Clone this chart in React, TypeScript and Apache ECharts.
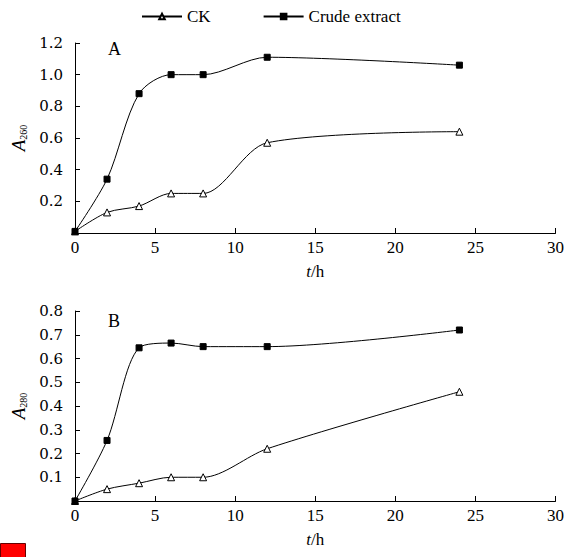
import React, { useEffect, useRef } from "react";
import * as echarts from "echarts";

const hours = [0, 2, 4, 6, 8, 12, 24];
const ckA = [0.01, 0.13, 0.17, 0.25, 0.25, 0.57, 0.64];
const crudeA = [0.01, 0.34, 0.88, 1.0, 1.0, 1.11, 1.06];
const ckB = [0.0, 0.05, 0.075, 0.1, 0.1, 0.22, 0.46];
const crudeB = [0.0, 0.255, 0.645, 0.665, 0.65, 0.65, 0.72];
const xTicks = [0, 5, 10, 15, 20, 25, 30];
const seriesNames = ["CK", "Crude extract"];
const panelLabels = ["A", "B"];
const yNames = ["260", "280"];

const serif = "'Liberation Serif', 'Times New Roman', serif";
const wideSerif = "'DejaVu Serif', serif";

export default function App() {
  const ref = useRef<HTMLDivElement>(null);
  useEffect(() => {
    if (!ref.current) return;
    const chart = echarts.init(ref.current, undefined, { renderer: "svg" });
    const pair = (xs: number[], ys: number[]) => xs.map((x, i) => [x, ys[i]]);
    const axisLine = { show: true, lineStyle: { color: "#000", width: 1 } };
    const xAxisCommon = {
      type: "value" as const,
      min: xTicks[0],
      max: xTicks[xTicks.length - 1],
      interval: 5,
      axisLine,
      axisTick: { show: true, inside: true, length: 5, lineStyle: { color: "#000" } },
      splitLine: { show: false },
      axisLabel: { color: "#000", fontFamily: serif, fontSize: 17, margin: 6 },
      name: "{i|t}{n|/h}",
      nameLocation: "middle" as const,
      nameGap: 30,
      nameTextStyle: {
        rich: {
          i: { fontFamily: serif, fontStyle: "italic", fontSize: 17, color: "#000" },
          n: { fontFamily: serif, fontSize: 17, color: "#000" },
        },
      },
    };
    const yAxisCommon = (max: number, interval: number, sub: string) => ({
      type: "value" as const,
      min: 0,
      max,
      interval,
      axisLine,
      axisTick: { show: true, inside: true, length: 5, lineStyle: { color: "#000" } },
      splitLine: { show: false },
      axisLabel: {
        color: "#000",
        fontFamily: wideSerif,
        fontSize: 15,
        margin: 12,
        formatter: (v: number) => (v === 0 ? "" : v.toFixed(1)),
      },
      name: "{i|A}{s|" + sub + "}",
      nameLocation: "middle" as const,
      nameRotate: 90,
      nameGap: 40,
      nameTextStyle: {
        rich: {
          i: { fontFamily: serif, fontStyle: "italic", fontSize: 19, color: "#000" },
          s: { fontFamily: serif, fontSize: 10, color: "#000", verticalAlign: "bottom", padding: [8, 0, 0, 0] },
        },
      },
    });
    const line = (name: string, data: number[][], idx: number) => ({
      name,
      type: "line" as const,
      xAxisIndex: idx,
      yAxisIndex: idx,
      data,
      smooth: 0.3,
      symbol: name === "CK" ? "triangle" : "rect",
      symbolSize: name === "CK" ? 7 : 6,
      lineStyle: { color: "#000", width: 1 },
      itemStyle: {
        color: name === "CK" ? "#fff" : "#000",
        borderColor: "#000",
        borderWidth: 1,
      },
    });
    chart.setOption({
      animation: false,
      backgroundColor: "#fff",
      legend: {
        top: 3,
        left: 136,
        itemGap: 52,
        itemWidth: 40,
        itemHeight: 7,
        data: seriesNames,
        textStyle: { fontFamily: serif, fontSize: 17, color: "#000" },
      },
      grid: [
        { left: 75, right: 8, top: 43, height: 190 },
        { left: 75, right: 8, top: 311, height: 190 },
      ],
      xAxis: [{ ...xAxisCommon, gridIndex: 0 }, { ...xAxisCommon, gridIndex: 1 }],
      yAxis: [
        { ...yAxisCommon(1.2, 0.2, yNames[0]), gridIndex: 0 },
        { ...yAxisCommon(0.8, 0.1, yNames[1]), gridIndex: 1 },
      ],
      series: [
        line(seriesNames[0], pair(hours, ckA), 0),
        line(seriesNames[1], pair(hours, crudeA), 0),
        line(seriesNames[0], pair(hours, ckB), 1),
        line(seriesNames[1], pair(hours, crudeB), 1),
      ],
      graphic: [
        { type: "text", left: 108, top: 40, style: { text: panelLabels[0], font: "18px " + serif, fill: "#000" } },
        { type: "text", left: 108, top: 312, style: { text: panelLabels[1], font: "18px " + serif, fill: "#000" } },
        { type: "rect", left: 0, top: 543, shape: { width: 25, height: 14 }, style: { fill: "#f00", stroke: "#600", lineWidth: 1 } },
      ],
    });
    return () => chart.dispose();
  }, []);
  return <div ref={ref} style={{ width: 567, height: 557, position: "absolute", left: 0, top: 0 }} />;
}
